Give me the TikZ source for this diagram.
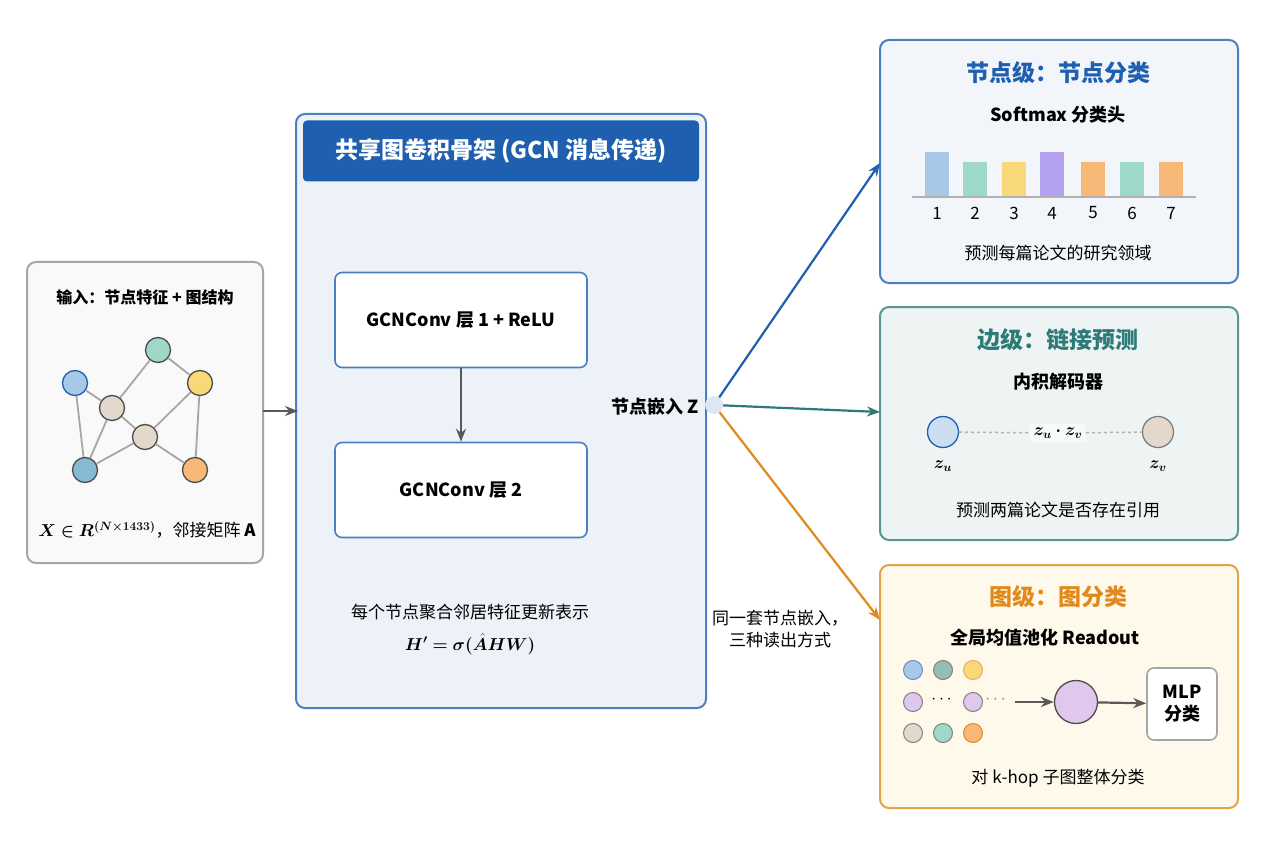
\documentclass[tikz,border=0pt]{standalone}
\usepackage{amsmath,bm}
\usepackage{fontspec}
\setmainfont{Noto Sans CJK SC}
\usetikzlibrary{arrows.meta}
\definecolor{cblue}{HTML}{1F5FAF}
\definecolor{cteal}{HTML}{2E7A78}
\definecolor{corange}{HTML}{E08A1E}
\definecolor{nblue}{HTML}{A8C8E8}
\definecolor{nteal}{HTML}{9ED8C8}
\definecolor{nyellow}{HTML}{F8D878}
\definecolor{nbeige}{HTML}{E4D8CC}
\definecolor{norange}{HTML}{F8B878}
\definecolor{npurple}{HTML}{E0C8EC}
\newcommand\fsbody{\fontsize{17}{22}\selectfont}
\newcommand\fssub{\fontsize{18}{22}\selectfont\bfseries}
\newcommand\fstitle{\fontsize{23}{28}\selectfont\bfseries}
\tikzset{
  panel/.style={draw, rounded corners=9pt, line width=2pt},
  layer/.style={draw=cblue!80, fill=white, rounded corners=7pt, line width=1.6pt, minimum width=252pt, minimum height=95pt, font=\fssub},
  gnode/.style={circle, draw=black!70, line width=1.3pt, minimum size=25pt, inner sep=0pt},
  dot/.style={circle, draw=black!50, line width=1pt, minimum size=19pt, inner sep=0pt},
  gedge/.style={draw=gray!70, line width=1.8pt},
  flow/.style={-{Stealth[length=13pt,width=10pt]}, line width=2.2pt},
}
\begin{document}
\begin{tikzpicture}[x=1pt,y=-1pt]
\useasboundingbox[fill=white] (0,0) rectangle (1280,853);
% Input panel
\draw[panel, draw=gray!70, fill=gray!5] (27,262) rectangle (263,563);
\node[font=\fontsize{16}{20}\selectfont\bfseries] (intitle) at (145,297) {输入：节点特征 + 图结构};
\node[gnode, fill=nblue, draw=cblue] (g1) at (75,383) {};
\node[gnode, fill=nteal] (g2) at (158,350) {};
\node[gnode, fill=nyellow] (g3) at (200,383) {};
\node[gnode, fill=nbeige] (g4) at (112,408) {};
\node[gnode, fill=nbeige] (g5) at (145,437) {};
\node[gnode, fill=nblue!80!teal] (g6) at (85,470) {};
\node[gnode, fill=norange] (g7) at (195,470) {};
\foreach \a/\b in {g1/g4,g1/g6,g2/g4,g2/g3,g4/g5,g4/g6,g5/g3,g5/g6,g5/g7,g3/g7}
  \draw[gedge] (\a) -- (\b);
\node[font=\fsbody] (inlabel) at (147,530) {$\bm{X\in R^{(N\times1433)}}$，邻接矩阵 \textbf{A}};
% Shared backbone
\draw[panel, draw=cblue!80, fill=cblue!8] (296,114) rectangle (706,708);
\node[fill=cblue, rounded corners=4pt, minimum width=396pt, minimum height=61pt, text=white, font=\fstitle] (bbtitle) at (501,151) {共享图卷积骨架 (GCN 消息传递)};
\node[layer] (l1) at (461,320) {GCNConv 层 1 + ReLU};
\node[layer] (l2) at (461,490) {GCNConv 层 2};
\draw[flow, draw=gray!70!black] (l1) -- (l2);
\node[font=\fsbody\itshape, align=center] (bbnote) at (470,612) {每个节点聚合邻居特征更新表示};
\node[font=\fsbody] (bbeq) at (470,644) {$\bm{H' = \sigma(\hat{A}HW)}$};
\coordinate (inR) at (263,411);
\coordinate (bbL) at (298,411);
\draw[flow, draw=gray!70!black] (inR) -- (bbL);
\node[font=\fssub] (zlabel) at (655,407) {节点嵌入 Z};
\node[circle, fill=cblue!15, minimum size=18pt, inner sep=0pt] (hub) at (714,405) {};
\node[font=\fsbody\itshape, align=center] (share) at (780,629) {同一套节点嵌入，\\三种读出方式};
% Node-level panel
\draw[panel, draw=cblue!80, fill=cblue!6] (880,40) rectangle (1238,283);
\node[font=\fstitle, text=cblue] (t1) at (1058,73) {节点级：节点分类};
\node[font=\fssub] (s1) at (1058,115) {Softmax 分类头};
\foreach \x/\h/\c [count=\i] in {937/44/nblue,975/34/nteal,1014/34/nyellow,1052/44/npurple!80!blue,1093/34/norange,1132/34/nteal,1171/34/norange}{
  \fill[\c] (\x-12,196) rectangle (\x+12,196-\h);
  \node[font=\fsbody] (b\i) at (\x,213) {\i};
}
\draw[gray!60, line width=1.5pt] (912,197) -- (1196,197);
\node[font=\fsbody] (d1) at (1058,253) {预测每篇论文的研究领域};
% Edge-level panel
\draw[panel, draw=cteal!80, fill=cteal!8] (880,307) rectangle (1238,540);
\node[font=\fstitle, text=cteal] (t2) at (1058,340) {边级：链接预测};
\node[font=\fssub] (s2) at (1058,382) {内积解码器};
\node[gnode, fill=nblue!60, draw=cblue, minimum size=31pt] (zu) at (943,432) {};
\node[gnode, fill=nbeige, draw=gray, minimum size=31pt] (zv) at (1158,432) {};
\node[font=\fsbody, fill=cteal!4] (dotp) at (1058,433) {$\bm{z_u\cdot z_v}$};
\draw[dashed, gray!60, line width=1.5pt] (zu) -- (dotp) -- (zv);
\node[font=\fsbody] (zul) at (943,466) {$\bm{z_u}$};
\node[font=\fsbody] (zvl) at (1158,466) {$\bm{z_v}$};
\node[font=\fsbody] (d2) at (1058,510) {预测两篇论文是否存在引用};
% Graph-level panel
\draw[panel, draw=corange!80, fill=nyellow!15] (880,565) rectangle (1238,808);
\node[font=\fstitle, text=corange] (t3) at (1058,597) {图级：图分类};
\node[font=\fssub] (s3) at (1045,638) {全局均值池化 Readout};
\node[dot, fill=nblue, draw=cblue!70] (p11) at (913,670) {};
\node[dot, fill=nteal!70!gray] (p12) at (943,670) {};
\node[dot, fill=nyellow, draw=corange!70] (p13) at (973,670) {};
\node[dot, fill=npurple] (p21) at (913,702) {};
\node[font=\fsbody] (p22) at (943,700) {$\cdots$};
\node[dot, fill=npurple] (p23) at (973,702) {};
\node[text=gray, font=\fsbody] (p24) at (997,700) {$\cdots$};
\node[dot, fill=nbeige] (p31) at (913,733) {};
\node[dot, fill=nteal] (p32) at (943,733) {};
\node[dot, fill=norange, draw=corange] (p33) at (973,733) {};
\node[gnode, fill=npurple, minimum size=43pt] (pool) at (1076,702) {};
\node[draw=gray!70, fill=white, rounded corners=7pt, line width=1.6pt, minimum width=70pt, minimum height=72pt, align=center, font=\fssub] (mlp) at (1182,704) {MLP\\分类};
\coordinate (pa) at (1015,702);
\draw[flow, draw=gray!70!black] (pa) -- (pool);
\draw[flow, draw=gray!70!black] (pool) -- (mlp);
\node[font=\fsbody] (d3) at (1058,778) {对 \textit{k}-hop 子图整体分类};
% Readout connectors
\coordinate (e1) at (880,163);
\coordinate (e2) at (880,412);
\coordinate (e3) at (880,620);
\draw[flow, draw=cblue] (hub) -- (e1);
\draw[flow, draw=cteal] (hub) -- (e2);
\draw[flow, draw=corange] (hub) -- (e3);
\end{tikzpicture}
\end{document}
